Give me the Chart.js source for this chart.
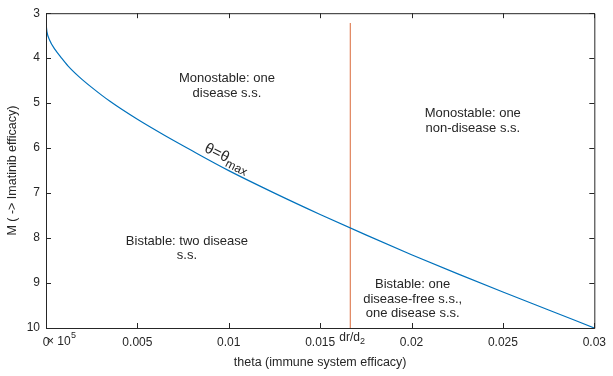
<!DOCTYPE html>
<html>
<head>
<meta charset="utf-8">
<script src="https://cdn.jsdelivr.net/npm/chart.js@4/dist/chart.umd.min.js"></script>
<style>
  html, body { margin: 0; padding: 0; background: #fff; }
  #wrap { width: 613px; height: 376px; }
</style>
</head>
<body>
<div id="wrap"><canvas id="grafico"></canvas></div>
<script>
// dados
const theta = [0, 0.00005, 0.0002, 0.0005, 0.0008, 0.0012, 0.0018, 0.0025, 0.0035, 0.005, 0.0065, 0.008, 0.01, 0.0125, 0.015, 0.0175, 0.02, 0.0225, 0.025, 0.0275, 0.03];
const thetaMax = [3.22, 3.41, 3.60, 3.81, 3.97, 4.17, 4.41, 4.65, 4.96, 5.36, 5.72, 6.06, 6.50, 7.00, 7.475, 7.93, 8.37, 8.79, 9.20, 9.60, 10.0];
const drD2 = 0.01665;
const linhaVertical = [3.22, 10];
const xTicks = [0, 0.005, 0.01, 0.015, 0.02, 0.025, 0.03];
const yTicks = [3, 4, 5, 6, 7, 8, 9, 10];

// textos das regiões (coordenadas em dados)
const regioes = [
    { x: 0.0099, y: 4.62, linhas: ['Monostable: one', 'disease s.s.'] },
    { x: 0.02335, y: 5.40, linhas: ['Monostable: one', 'non-disease s.s.'] },
    { x: 0.00771, y: 8.23, linhas: ['Bistable: two disease', 's.s.'] },
    { x: 0.02006, y: 9.36, linhas: ['Bistable: one', 'disease-free s.s.,', 'one disease s.s.'] }
];

const fonte = '"Liberation Sans", Arial, Helvetica, sans-serif';
const corTexto = '#262626';

// caixa e ticks para dentro, estilo MATLAB, mais os textos
const pluginCaixa = {
    id: 'caixa',
    afterDraw(chart) {
        const ctx = chart.ctx;
        const a = chart.chartArea;
        const sx = chart.scales.x, sy = chart.scales.y;
        ctx.save();
        ctx.strokeStyle = '#262626';
        ctx.lineWidth = 1;
        ctx.beginPath();
        ctx.rect(a.left + 0.5, a.top + 0.5, a.right - a.left, a.bottom - a.top);
        xTicks.forEach(v => {
            const px = Math.round(sx.getPixelForValue(v)) + 0.5;
            ctx.moveTo(px, a.bottom); ctx.lineTo(px, a.bottom - 5);
            ctx.moveTo(px, a.top); ctx.lineTo(px, a.top + 5);
        });
        yTicks.forEach(v => {
            const py = Math.round(sy.getPixelForValue(v)) + 0.5;
            ctx.moveTo(a.left, py); ctx.lineTo(a.left + 5, py);
            ctx.moveTo(a.right, py); ctx.lineTo(a.right - 5, py);
        });
        ctx.stroke();

        ctx.fillStyle = corTexto;
        ctx.font = '13px ' + fonte;
        ctx.textAlign = 'center';
        ctx.textBaseline = 'middle';
        regioes.forEach(r => {
            const cx = sx.getPixelForValue(r.x);
            const cy = sy.getPixelForValue(r.y);
            const h = 14.5;
            const y0 = cy - (r.linhas.length - 1) * h / 2;
            r.linhas.forEach((t, i) => ctx.fillText(t, cx, y0 + i * h));
        });

        // rótulo da curva
        ctx.save();
        ctx.translate(sx.getPixelForValue(0.0098), sy.getPixelForValue(6.2));
        ctx.rotate(26 * Math.PI / 180);
        ctx.textAlign = 'left';
        ctx.font = '15px ' + fonte;
        ctx.fillText('\u03B8=\u03B8', -22, 0);
        const w = ctx.measureText('\u03B8=\u03B8').width;
        ctx.font = '12px ' + fonte;
        ctx.fillText('max', -22 + w, 5);
        ctx.restore();

        // dr/d2 embaixo da linha vertical
        const lx = sx.getPixelForValue(drD2);
        ctx.font = '12px ' + fonte;
        ctx.textAlign = 'left';
        ctx.fillText('dr/d', lx - 11, a.bottom + 10);
        const wd = ctx.measureText('dr/d').width;
        ctx.font = '9px ' + fonte;
        ctx.fillText('2', lx - 11 + wd, a.bottom + 14);

        // multiplicador esquisito do MATLAB
        ctx.font = '12px ' + fonte;
        ctx.fillText('\u00D7 10', a.left + 1, a.bottom + 14);
        ctx.font = '9px ' + fonte;
        ctx.fillText('5', a.left + 25, a.bottom + 8);
        ctx.restore();
    }
};

const ctxG = document.getElementById('grafico').getContext('2d');
new Chart(ctxG, {
    type: 'scatter',
    data: {
        datasets: [{
            data: theta.map((t, i) => ({ x: t, y: thetaMax[i] })),
            showLine: true,
            borderColor: '#0072BD',
            borderWidth: 1.2,
            pointRadius: 0,
            cubicInterpolationMode: 'monotone'
        }, {
            data: linhaVertical.map(m => ({ x: drD2, y: m })),
            showLine: true,
            borderColor: '#E0825A',
            borderWidth: 1.2,
            pointRadius: 0
        }]
    },
    plugins: [pluginCaixa],
    options: {
        responsive: true,
        maintainAspectRatio: false,
        animation: false,
        layout: { padding: { top: 10, right: 10, left: 0, bottom: 0 } },
        plugins: { legend: { display: false }, tooltip: { enabled: false } },
        scales: {
            x: {
                type: 'linear',
                min: 0, max: 0.03,
                grid: { display: false, drawTicks: false },
                border: { display: false },
                afterBuildTicks: s => { s.ticks = xTicks.map(v => ({ value: v })); },
                afterFit: s => { s.height = 48; },
                ticks: {
                    color: corTexto,
                    padding: 7,
                    maxRotation: 0,
                    font: { family: fonte, size: 12 },
                    callback: v => String(v)
                },
                title: {
                    display: true,
                    text: 'theta (immune system efficacy)',
                    color: corTexto,
                    font: { family: fonte, size: 12.5 },
                    padding: { top: 1, bottom: 6 }
                }
            },
            y: {
                type: 'linear',
                min: 3, max: 10,
                reverse: true,
                grid: { display: false, drawTicks: false },
                border: { display: false },
                afterBuildTicks: s => { s.ticks = yTicks.map(v => ({ value: v })); },
                afterFit: s => { s.width = 46; },
                ticks: {
                    color: corTexto,
                    padding: 6,
                    font: { family: fonte, size: 12 }
                },
                title: {
                    display: true,
                    text: 'M ( -> Imatinib efficacy)',
                    color: corTexto,
                    font: { family: fonte, size: 12.5 },
                    padding: { top: 5, bottom: 0 }
                }
            }
        }
    }
});
</script>
</body>
</html>
